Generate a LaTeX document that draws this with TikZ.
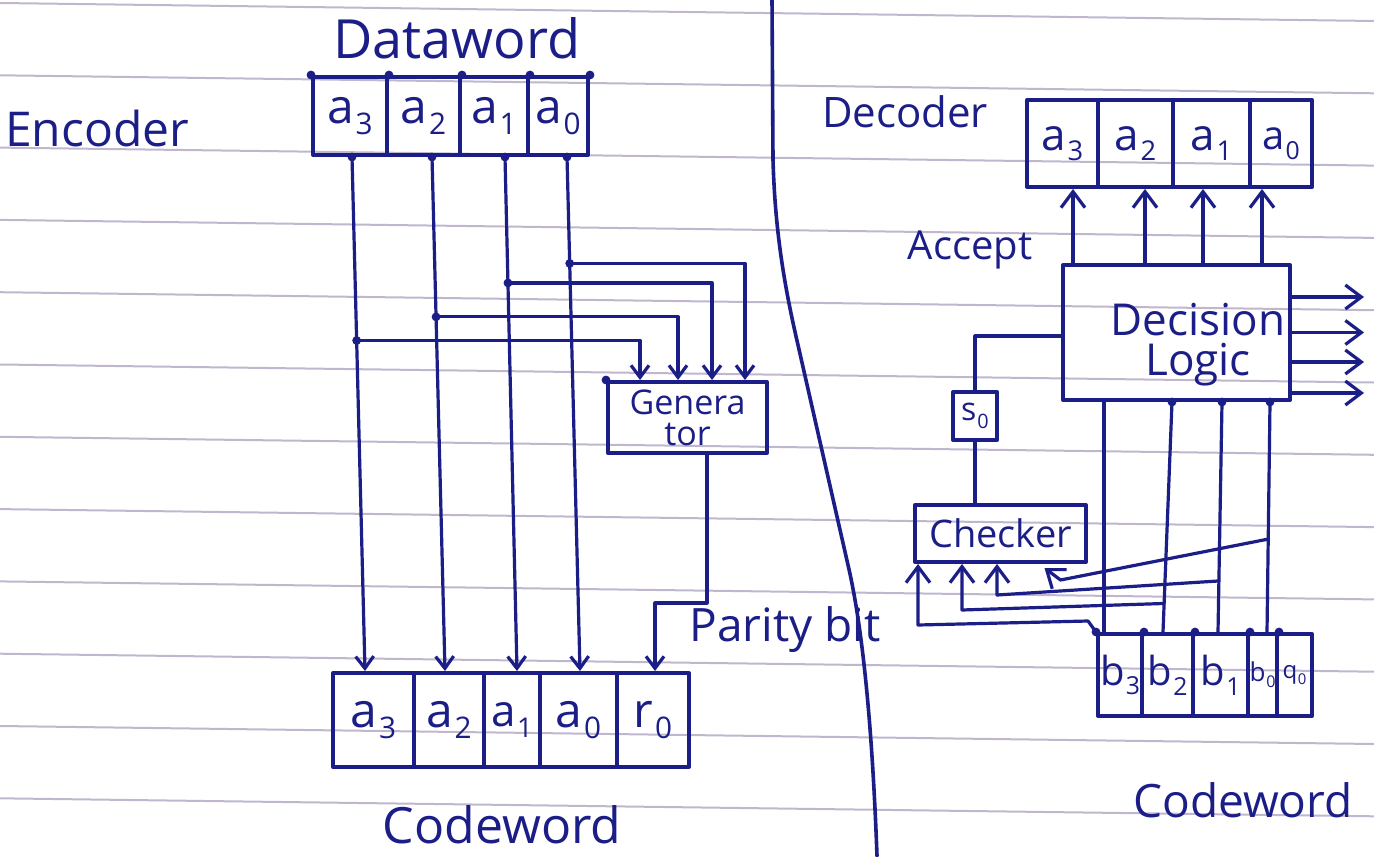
\documentclass[tikz,border=0pt]{standalone}
\usepackage{fontspec}
\setmainfont{Open Sans}
\usetikzlibrary{arrows.meta,calc}
\definecolor{ink}{RGB}{28,30,135}
\definecolor{rule}{RGB}{192,183,207}
% lowered subscript in the running font
\newcommand\sbs[1]{\kern0.03em\raisebox{-0.45ex}{\scalebox{0.62}{#1}}}
\newcommand\hand[1]{\fontsize{#1}{#1}\selectfont}
\begin{document}
\begin{tikzpicture}[x=0.5pt,y=-0.5pt,
  line cap=round, line join=round,
  box/.style={draw=ink,line width=2pt,inner sep=0pt,text=ink,align=center},
  wire/.style={draw=ink,line width=1.6pt},
  arr/.style={wire,-{Straight Barb[length=6pt,width=9pt]}},
  bigarr/.style={wire,-{Straight Barb[length=8pt,width=12pt]}},
  txt/.style={text=ink,inner sep=0pt,align=center},
]
% ruled notebook paper
\fill[white] (0,0) rectangle (1374,856);
\useasboundingbox (0,0) rectangle (1374,856);
\foreach \k in {0,...,11}
  \draw[rule,line width=1pt] (0,{3+72.3*\k}) -- (1374,{21+72.3*\k});

% dividing line between encoder and decoder
\draw[ink,line width=1.8pt] (772,0) -- (773,160)
  .. controls (775,230) and (784,285) .. (798,345)
  -- (848,565)
  .. controls (862,625) and (872,720) .. (877,856);

% ---------------- encoder ----------------
\node[txt,font=\hand{27}] (dw) at (457,38) {Dataword};
\node[txt,font=\hand{24}] (enc) at (97,128) {Encoder};

\node[box,minimum width=37pt,minimum height=39pt,font=\hand{24}] (d3) at (350,116) {a\sbs{3}};
\node[box,minimum width=36.5pt,minimum height=39pt,font=\hand{24}] (d2) at (423.5,116) {a\sbs{2}};
\node[box,minimum width=34pt,minimum height=39pt,font=\hand{24}] (d1) at (494,116) {a\sbs{1}};
\node[box,minimum width=30pt,minimum height=39pt,font=\hand{24}] (d0) at (558,116) {a\sbs{0}};

\node[box,minimum width=79.5pt,minimum height=35.5pt,font=\fontsize{17}{15.5}\selectfont] (gen) at (687.5,417.5) {Genera\\tor};

\node[box,minimum width=40.5pt,minimum height=47pt,font=\hand{24}] (c3) at (373.5,720) {a\sbs{3}};
\node[box,minimum width=35pt,minimum height=47pt,font=\hand{24}] (c2) at (449,720) {a\sbs{2}};
\node[box,minimum width=28pt,minimum height=47pt,font=\hand{22}] (c1) at (512,720) {a\sbs{1}};
\node[box,minimum width=38.5pt,minimum height=47pt,font=\hand{24}] (c0) at (578.5,720) {a\sbs{0}};
\node[box,minimum width=36pt,minimum height=47pt,font=\hand{24}] (cr) at (653,720) {r\sbs{0}};

\node[txt,font=\hand{23}] (pb) at (785,630) {Parity bit};
\node[txt,font=\hand{25}] (cwl) at (502,825) {Codeword};

% data bits copied straight into the codeword
\coordinate (s3) at ([xshift=1pt]d3.south);
\coordinate (e3) at ([xshift=-4.25pt]c3.north);
\coordinate (s2) at ([xshift=4.25pt]d2.south);
\coordinate (e2) at ([xshift=-2pt]c2.north);
\coordinate (s1) at ([xshift=5.5pt]d1.south);
\coordinate (e1) at ([xshift=2.5pt]c1.north);
\coordinate (s0) at ([xshift=4.5pt]d0.south);
\coordinate (e0) at ([xshift=0.75pt]c0.north);
\foreach \i in {3,2,1,0} {
  \draw[arr] (s\i) -- (e\i);
  \fill[ink] (s\i) circle (2.2pt);
}

% taps into the generator
\coordinate (j3) at ($(s3)!0.357!(e3)$);
\coordinate (j2) at ($(s2)!0.311!(e2)$);
\coordinate (j1) at ($(s1)!0.245!(e1)$);
\coordinate (j0) at ($(s0)!0.207!(e0)$);
\draw[arr] (j3) -| ([xshift=-23.75pt]gen.north);
\draw[arr] (j2) -| ([xshift=-4.75pt]gen.north);
\draw[arr] (j1) -| ([xshift=12.25pt]gen.north);
\draw[arr] (j0) -| ([xshift=28.75pt]gen.north);
\foreach \j in {j3,j2,j1,j0} \fill[ink] (\j) circle (2.2pt);

% parity bit out of the generator
\draw[arr] ([xshift=9.75pt]gen.south) |- ([xshift=1pt,yshift=34pt]cr.north) -- ([xshift=1pt]cr.north);

% ink dots at the register corners
\foreach \p in {d3.north west,d3.north east,d2.north east,d1.north east,d0.north east}
  \fill[ink] (\p) circle (2.2pt);
\fill[ink] (gen.north west) circle (2.2pt);

% ---------------- decoder ----------------
\node[txt,font=\hand{21}] (dec) at (905,112) {Decoder};
\node[txt,font=\hand{20}] (acc) at (970,250) {Accept};

\node[box,minimum width=35.5pt,minimum height=43.5pt,font=\hand{22}] (o3) at (1062.5,143.5) {a\sbs{3}};
\node[box,minimum width=37.5pt,minimum height=43.5pt,font=\hand{22}] (o2) at (1135.5,143.5) {a\sbs{2}};
\node[box,minimum width=38.5pt,minimum height=43.5pt,font=\hand{22}] (o1) at (1211.5,143.5) {a\sbs{1}};
\node[box,minimum width=31pt,minimum height=43.5pt,font=\hand{20}] (o0) at (1281,143.5) {a\sbs{0}};

\node[box,minimum width=113.5pt,minimum height=67.5pt] (dl) at (1176.5,332.5) {};
\node[txt,font=\fontsize{22}{20}\selectfont] (dlt) at (1198,345) {Decision\\Logic};

\node[box,minimum width=22pt,minimum height=24pt,font=\hand{16}] (sy) at (975,416) {s\sbs{0}};
\node[box,minimum width=85.5pt,minimum height=28.5pt,font=\hand{19}] (chk) at (1000.5,533.5) {Checker};

\node[box,minimum width=22pt,minimum height=41pt,font=\hand{20}] (rb3) at (1120,675) {b\sbs{3}};
\node[box,minimum width=25.5pt,minimum height=41pt,font=\hand{20}] (rb2) at (1167.5,675) {b\sbs{2}};
\node[box,minimum width=27.5pt,minimum height=41pt,font=\hand{20}] (rb1) at (1220.5,675) {b\sbs{1}};
\node[box,minimum width=14.5pt,minimum height=41pt,font=\hand{13}] (rb0) at (1262.5,675) {b\sbs{0}};
\node[box,minimum width=17.5pt,minimum height=41pt,font=\hand{12}] (rq0) at (1294.5,675) {q\sbs{0}};

\node[txt,font=\hand{23}] (cwr) at (1243,800) {Codeword};

% dataword handed up when accepted
\foreach \dx/\c in {-51.75/o3,-15.75/o2,13.25/o1,42.75/o0}
  \draw[bigarr] ([xshift=\dx pt]dl.north) -- ([xshift=\dx pt]dl.north |- \c.south);

% decision outputs
\foreach \dy in {17.75,0,-14.75,-30.25}
  \draw[bigarr] ([yshift=\dy pt]dl.east) -- ++(72,0);

% syndrome path
\draw[wire] (sy.north) |- ([yshift=-1.75pt]dl.west);
\draw[wire] (sy.south) -- (sy.south |- chk.north);

% received bits up to the decision logic
\coordinate (u3) at ([xshift=-36.25pt]dl.south);
\coordinate (v3) at ([xshift=-8pt]rb3.north);
\coordinate (u2) at ([xshift=-2.25pt]dl.south);
\coordinate (v2) at ([xshift=-2.25pt]rb2.north);
\coordinate (u1) at ([xshift=22.75pt]dl.south);
\coordinate (v1) at ([xshift=-1.25pt]rb1.north);
\coordinate (u0) at ([xshift=46.75pt]dl.south);
\coordinate (v0) at ([xshift=2.25pt]rb0.north);
\foreach \i in {3,2,1,0} \draw[wire] (u\i) -- (v\i);
\foreach \i in {2,1,0} \fill[ink] (u\i) circle (2.2pt);

% received bits into the checker
\coordinate (jb2) at ($(u2)!0.876!(v2)$);
\coordinate (jb1) at ($(u1)!0.778!(v1)$);
\coordinate (jb0) at ($(u0)!0.596!(v0)$);
\draw[bigarr] (rb3.north west) -- ++(-8,-11) -- ([xshift=-41.25pt,yshift=-30.5pt]chk.south) -- ([xshift=-41.25pt]chk.south);
\draw[bigarr] (jb2) -- ([xshift=-19.25pt,yshift=-23pt]chk.south) -- ([xshift=-19.25pt]chk.south);
\draw[bigarr] (jb1) -- ([xshift=-1.75pt,yshift=-15.5pt]chk.south) -- ([xshift=-1.75pt]chk.south);
\draw[bigarr] (jb0) -- ([xshift=30pt,yshift=-8pt]chk.south) -- ([xshift=22pt,yshift=-2pt]chk.south);

\foreach \p in {rb3.north west,rb3.north east,rb2.north east,rb1.north east,rb0.north east}
  \fill[ink] (\p) circle (2.2pt);
\end{tikzpicture}
\end{document}
